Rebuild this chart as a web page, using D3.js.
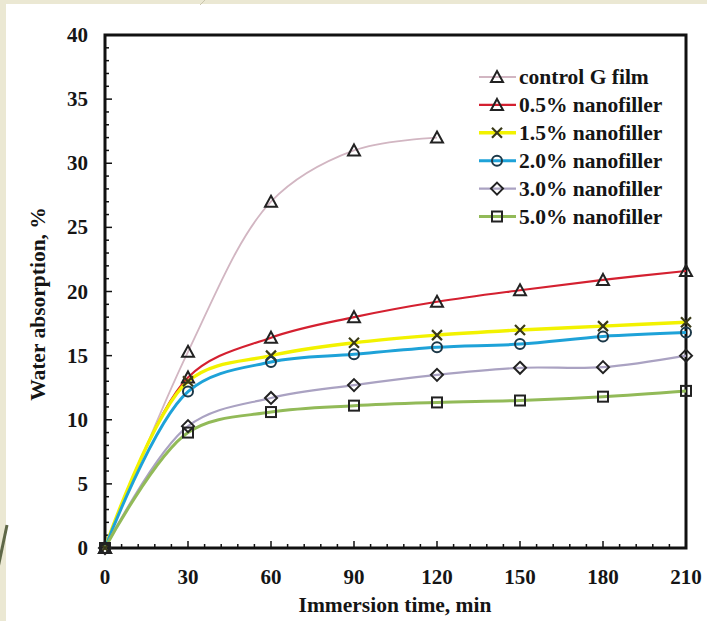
<!DOCTYPE html>
<html><head><meta charset="utf-8">
<script src="https://cdn.jsdelivr.net/npm/d3@7"></script>
<style>body{margin:0;padding:0;background:#fff;}svg{display:block;}</style>
</head><body>
<svg id="chart" width="707" height="621"></svg>
<script>
const times = [0, 30, 60, 90, 120, 150, 180, 210];
const seriesNames = ["control G film", "0.5% nanofiller", "1.5% nanofiller", "2.0% nanofiller", "3.0% nanofiller", "5.0% nanofiller"];
const controlG = [0, 15.3, 27.0, 31.0, 32.0];
const nano05 = [0, 13.3, 16.4, 18.0, 19.2, 20.1, 20.9, 21.6];
const nano15 = [0, 13.0, 15.0, 16.0, 16.6, 17.0, 17.3, 17.6];
const nano20 = [0, 12.2, 14.5, 15.1, 15.65, 15.9, 16.5, 16.8];
const nano30 = [0, 9.5, 11.7, 12.7, 13.5, 14.05, 14.1, 15.0];
const nano50 = [0, 9.0, 10.6, 11.1, 11.35, 11.5, 11.8, 12.25];
const xTicks = [0, 30, 60, 90, 120, 150, 180, 210];
const yTicks = [0, 5, 10, 15, 20, 25, 30, 35, 40];

const allSeries = [controlG, nano05, nano15, nano20, nano30, nano50];
const colors = ["#d2b6c2", "#d42030", "#f2f200", "#1ea2d8", "#aaa2c2", "#92ba58"];
const widths = [1.8, 2.2, 3.4, 3, 2.2, 3];
const symbols = ["triangle", "triangle", "x", "circle", "diamond", "square"];

const svg = d3.select("#chart");
svg.append("rect").attr("x",0).attr("y",0).attr("width",707).attr("height",621).attr("fill","#ebe8d3");
svg.append("rect").attr("x",6).attr("y",4).attr("width",701).attr("height",617).attr("fill","#ffffff");
svg.append("line").attr("x1",7).attr("y1",525).attr("x2",-2).attr("y2",568).attr("stroke","#5f6848").attr("stroke-width",3);
svg.append("line").attr("x1",206).attr("y1",-1).attr("x2",200).attr("y2",5).attr("stroke","#c9c5ae").attr("stroke-width",1);

const L = 105, R = 686, T = 35, B = 548;
const x = d3.scaleLinear().domain([0, 210]).range([L, R]);
const y = d3.scaleLinear().domain([0, 40]).range([B, T]);
const font = "'Liberation Serif','Times New Roman',serif";

const g = svg.append("g");
d3.range(0, 211, 6).forEach(v => {
  const major = v % 30 === 0;
  g.append("line").attr("x1", x(v)).attr("x2", x(v)).attr("y1", B).attr("y2", B - (major ? 7 : 4))
   .attr("stroke", "#111").attr("stroke-width", 1.5);
});
d3.range(0, 41, 1).forEach(v => {
  const major = v % 5 === 0;
  g.append("line").attr("x1", L).attr("x2", L + (major ? 7 : 4)).attr("y1", y(v)).attr("y2", y(v))
   .attr("stroke", "#111").attr("stroke-width", 1.5);
});
svg.append("rect").attr("x", L).attr("y", T).attr("width", R - L).attr("height", B - T)
  .attr("fill", "none").attr("stroke", "#111").attr("stroke-width", 3);

svg.selectAll(".xl").data(xTicks).enter().append("text")
  .attr("x", d => x(d)).attr("y", 584).attr("text-anchor", "middle")
  .attr("font-family", font).attr("font-weight", "bold").attr("font-size", 21).attr("fill", "#151515")
  .text(d => d);
svg.selectAll(".yl").data(yTicks).enter().append("text")
  .attr("x", 88).attr("y", d => y(d) + 7).attr("text-anchor", "end")
  .attr("font-family", font).attr("font-weight", "bold").attr("font-size", 21).attr("fill", "#151515")
  .text(d => d);
svg.append("text").attr("x", 395).attr("y", 612).attr("text-anchor", "middle")
  .attr("font-family", font).attr("font-weight", "bold").attr("font-size", 21.5).attr("fill", "#151515")
  .text("Immersion time, min");
svg.append("text").attr("transform", "translate(45,304) rotate(-90)").attr("text-anchor", "middle")
  .attr("font-family", font).attr("font-weight", "bold").attr("font-size", 21.5).attr("fill", "#151515")
  .text("Water absorption, %");

const line = d3.line().x((d, i) => x(times[i])).y(d => y(d)).curve(d3.curveCatmullRom.alpha(0.5));
allSeries.forEach((s, k) => {
  svg.append("path").datum(s).attr("d", line).attr("fill", "none")
    .attr("stroke", colors[k]).attr("stroke-width", widths[k]);
});

function drawMarker(sel, type, cx, cy) {
  const st = "#222";
  if (type === "triangle") {
    sel.append("path").attr("d", `M${cx},${cy-6} L${cx+6},${cy+5} L${cx-6},${cy+5} Z`)
      .attr("fill", "none").attr("stroke", st).attr("stroke-width", 2);
  } else if (type === "x") {
    sel.append("path").attr("d", `M${cx-5},${cy-5} L${cx+5},${cy+5} M${cx+5},${cy-5} L${cx-5},${cy+5}`)
      .attr("stroke", "#3a3a18").attr("stroke-width", 2.2);
  } else if (type === "circle") {
    sel.append("circle").attr("cx", cx).attr("cy", cy).attr("r", 5)
      .attr("fill", "none").attr("stroke", "#1c3848").attr("stroke-width", 2);
  } else if (type === "diamond") {
    sel.append("path").attr("d", `M${cx},${cy-6} L${cx+6},${cy} L${cx},${cy+6} L${cx-6},${cy} Z`)
      .attr("fill", "none").attr("stroke", st).attr("stroke-width", 2);
  } else if (type === "square") {
    sel.append("rect").attr("x", cx - 5).attr("y", cy - 5).attr("width", 10).attr("height", 10)
      .attr("fill", "none").attr("stroke", st).attr("stroke-width", 2);
  }
}
allSeries.forEach((s, k) => {
  const mg = svg.append("g");
  s.forEach((v, i) => drawMarker(mg, symbols[k], x(times[i]), y(v)));
});

const lg = svg.append("g");
seriesNames.forEach((name, k) => {
  const ly = 77 + k * 27.9;
  lg.append("line").attr("x1", 479).attr("x2", 516).attr("y1", ly).attr("y2", ly)
    .attr("stroke", colors[k]).attr("stroke-width", widths[k]);
  drawMarker(lg, symbols[k], 497, ly);
  lg.append("text").attr("x", 519).attr("y", ly + 7)
    .attr("font-family", font).attr("font-weight", "bold").attr("font-size", 21.5).attr("fill", "#151515")
    .text(name);
});
</script>
</body></html>
